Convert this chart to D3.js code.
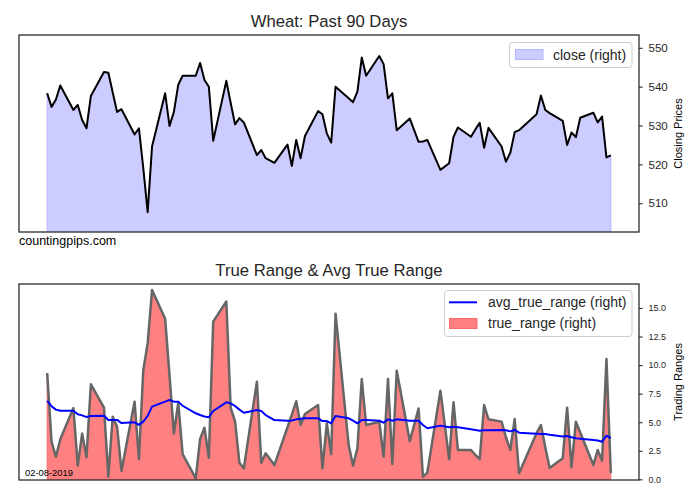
<!DOCTYPE html>
<html>
<head>
<meta charset="utf-8">
<script src="https://cdn.jsdelivr.net/npm/d3@7"></script>
<style>
  html, body { margin: 0; background: #fff; }
  svg { display: block; font-family: "Liberation Sans", Arial, sans-serif; }
</style>
</head>
<body>
<div id="chart"></div>
<script>
// trading days, last 90 sessions up to 02-08-2019
var dates = [
  "2018-10-02", "2018-10-03", "2018-10-04", "2018-10-05",
  "2018-10-08", "2018-10-09", "2018-10-10", "2018-10-11", "2018-10-12",
  "2018-10-15", "2018-10-16", "2018-10-17", "2018-10-18", "2018-10-19",
  "2018-10-22", "2018-10-23", "2018-10-24", "2018-10-25", "2018-10-26",
  "2018-10-29", "2018-10-30", "2018-10-31", "2018-11-01", "2018-11-02",
  "2018-11-05", "2018-11-06", "2018-11-07", "2018-11-08", "2018-11-09",
  "2018-11-12", "2018-11-13", "2018-11-14", "2018-11-15", "2018-11-16",
  "2018-11-19", "2018-11-20", "2018-11-21", "2018-11-23",
  "2018-11-26", "2018-11-27", "2018-11-28", "2018-11-29", "2018-11-30",
  "2018-12-03", "2018-12-04", "2018-12-05", "2018-12-06", "2018-12-07",
  "2018-12-10", "2018-12-11", "2018-12-12", "2018-12-13", "2018-12-14",
  "2018-12-17", "2018-12-18", "2018-12-19", "2018-12-20", "2018-12-21",
  "2018-12-24", "2018-12-26", "2018-12-27", "2018-12-28",
  "2018-12-31", "2019-01-02", "2019-01-03", "2019-01-04",
  "2019-01-07", "2019-01-08", "2019-01-09", "2019-01-10", "2019-01-11",
  "2019-01-14", "2019-01-15", "2019-01-16", "2019-01-17", "2019-01-18",
  "2019-01-22", "2019-01-23", "2019-01-24", "2019-01-25",
  "2019-01-28", "2019-01-29", "2019-01-30", "2019-01-31", "2019-02-01",
  "2019-02-04", "2019-02-05", "2019-02-06", "2019-02-07", "2019-02-08"
];

var closePrices = [
  538.3, 534.8, 536.7, 540.3,
  534.0, 535.3, 531.4, 529.3, 537.6,
  543.8, 543.6, 538.5, 533.5, 534.2,
  527.7, 529.3, 519.0, 507.7, 524.6,
  538.3, 529.9, 533.5, 540.5, 542.8,
  542.8, 546.1, 541.7, 540.0, 526.1,
  541.5, 535.8, 530.3, 531.9, 530.8,
  522.4, 523.7, 521.6, 520.4,
  525.1, 519.6, 526.3, 521.6, 527.3,
  533.7, 532.9, 528.0, 525.6, 540.0,
  537.0, 536.0, 538.7, 547.5, 542.8,
  547.9, 545.8, 537.0, 538.3, 528.8,
  531.8, 525.8, 525.9, 526.3,
  518.6, 520.3, 527.1, 529.5,
  527.1, 529.0, 530.7, 524.3, 529.4,
  524.6, 520.7, 523.0, 528.3, 528.8,
  532.9, 537.7, 534.0, 533.2,
  531.2, 525.0, 528.2, 527.0, 532.0,
  533.3, 530.8, 532.3, 521.8, 522.3
];

var trueRange = [
  9.3, 3.29, 1.98, 3.5,
  6.24, 1.2, 4.0, 1.93, 8.32,
  6.27, 0.23, 5.48, 4.6, 0.73,
  6.8, 1.78, 9.57, 11.9, 16.58,
  14.05, 9.1, 4.0, 6.7, 2.2,
  0.09, 3.53, 4.52, 1.89, 13.8,
  15.57, 6.25, 5.08, 1.45, 0.96,
  8.55, 1.45, 2.28, 1.25,
  4.56, 5.66, 6.83, 4.75, 5.72,
  6.5, 0.96, 4.9, 2.2, 14.5,
  3.0, 1.2, 2.72, 8.78, 4.75,
  5.03, 1.98, 8.78, 1.34, 9.5,
  3.34, 6.2, 0.23, 0.58,
  7.76, 1.75, 6.74, 2.57,
  2.57, 2.13, 1.78, 6.5, 5.25,
  5.05, 3.68, 2.57, 5.28, 0.53,
  4.04, 4.75, 2.8, 1.0,
  1.85, 6.27, 1.05, 5.05, 4.1,
  1.25, 2.57, 1.63, 10.53, 0.53
];

var avgTrueRange = [
  6.86, 6.4, 6.1, 6.0,
  6.0, 5.7, 5.6, 5.45, 5.55,
  5.57, 5.2, 5.2, 5.2, 4.92,
  4.99, 4.77, 5.05, 5.55, 6.36,
  6.8, 6.94, 6.8, 6.8, 6.44,
  5.78, 5.63, 5.5, 5.43, 5.98,
  6.74, 6.65, 6.42, 6.1, 5.83,
  6.07, 5.98, 5.63, 5.19,
  5.13, 5.15, 5.25, 5.3, 5.34,
  5.34, 5.1, 5.1, 4.9, 5.54,
  5.34, 5.13, 4.9, 5.19, 5.19,
  5.13, 4.96, 5.25, 5.13, 5.25,
  5.13, 5.13, 4.75, 4.47,
  4.7, 4.55, 4.6, 4.55,
  4.38, 4.32, 4.26, 4.3, 4.3,
  4.32, 4.3, 4.2, 4.32, 4.08,
  4.0, 3.97, 3.97, 3.9,
  3.75, 3.79, 3.68, 3.59, 3.55,
  3.44, 3.4, 3.29, 3.82, 3.6
];

var closeTicks = [510, 520, 530, 540, 550];
var rangeTicks = [0, 2.5, 5, 7.5, 10, 12.5, 15];

(function () {
  var W = 700, H = 500;
  var spine = "#262626";
  var parse = d3.utcParse("%Y-%m-%d");
  var days = dates.map(parse);

  var svg = d3.select("#chart").append("svg")
    .attr("width", W).attr("height", H);

  // matplotlib-style 5% margin on the time axis
  var t0 = days[0].getTime(), t1 = days[days.length - 1].getTime();
  var pad = (t1 - t0) * 0.05;
  var x = d3.scaleUtc()
    .domain([new Date(t0 - pad), new Date(t1 + pad)])
    .range([19, 639]);

  function frame(id, top, bottom) {
    svg.append("clipPath").attr("id", id)
      .append("rect").attr("x", 19).attr("y", top)
      .attr("width", 620).attr("height", bottom - top);
  }

  function spines(top, bottom) {
    svg.append("rect")
      .attr("x", 19).attr("y", top).attr("width", 620).attr("height", bottom - top)
      .attr("fill", "none").attr("stroke", spine).attr("stroke-width", 1.25);
  }

  function rightAxis(y, ticks, fmt, fontSize, label, midY) {
    var ax = d3.axisRight(y).tickValues(ticks).tickFormat(fmt)
      .tickSize(3.5).tickPadding(6).tickSizeOuter(0);
    var g = svg.append("g").attr("transform", "translate(639,0)").call(ax);
    g.select(".domain").remove();
    g.selectAll("line").attr("stroke", spine).attr("stroke-width", 1.1);
    g.selectAll("text").attr("fill", spine).attr("font-size", fontSize + "px")
      .attr("font-family", "Liberation Sans, Arial, sans-serif");
    svg.append("text")
      .attr("transform", "translate(682," + midY + ") rotate(-90)")
      .attr("text-anchor", "middle").attr("font-size", "11px").attr("fill", "#000")
      .text(label);
  }

  function title(txt, yBase) {
    svg.append("text").attr("x", 329).attr("y", yBase)
      .attr("text-anchor", "middle").attr("font-size", "16.7px").attr("fill", "#262626")
      .text(txt);
  }

  // ---- top: closing prices
  var yTop = d3.scaleLinear().domain([502.6, 553.3]).range([232, 35]);
  frame("clipTop", 35, 232);
  var gTop = svg.append("g").attr("clip-path", "url(#clipTop)");
  var closeArea = d3.area()
    .x(function (d, i) { return x(days[i]); })
    .y0(240)
    .y1(function (d) { return yTop(d); });
  gTop.append("path").datum(closePrices)
    .attr("d", closeArea).attr("fill", "#ccccff")
    .attr("stroke", "#b5b5ff").attr("stroke-width", 1);
  var closeLine = d3.line()
    .x(function (d, i) { return x(days[i]); })
    .y(function (d) { return yTop(d); });
  gTop.append("path").datum(closePrices)
    .attr("d", closeLine).attr("fill", "none")
    .attr("stroke", "#000").attr("stroke-width", 2).attr("stroke-linejoin", "round");
  spines(35, 232);
  rightAxis(yTop, closeTicks, d3.format("d"), 11.5, "Closing Prices", 133.5);
  title("Wheat: Past 90 Days", 27);

  var lgTop = svg.append("g");
  lgTop.append("rect").attr("x", 509.5).attr("y", 42.5).attr("width", 122.5).attr("height", 25)
    .attr("rx", 3).attr("fill", "#fff").attr("fill-opacity", 0.8).attr("stroke", "#cccccc");
  lgTop.append("rect").attr("x", 515.5).attr("y", 49.5).attr("width", 27.5).attr("height", 10)
    .attr("fill", "#ccccff").attr("stroke", "#b5b5ff");
  lgTop.append("text").attr("x", 553).attr("y", 59.5).attr("font-size", "14px").attr("fill", "#262626")
    .text("close (right)");

  svg.append("text").attr("x", 19).attr("y", 245).attr("font-size", "12.5px").attr("fill", "#000")
    .text("countingpips.com");

  // ---- bottom: true range and its average
  var yBot = d3.scaleLinear().domain([-0.06, 17.1]).range([480, 284]);
  frame("clipBot", 284, 480);
  var gBot = svg.append("g").attr("clip-path", "url(#clipBot)");
  var trArea = d3.area()
    .x(function (d, i) { return x(days[i]); })
    .y0(yBot(0))
    .y1(function (d) { return yBot(d); });
  gBot.append("path").datum(trueRange)
    .attr("d", trArea).attr("fill", "#ff8080")
    .attr("stroke", "#ff6b6b").attr("stroke-width", 1);
  var trLine = d3.line()
    .x(function (d, i) { return x(days[i]); })
    .y(function (d) { return yBot(d); });
  gBot.append("path").datum(trueRange)
    .attr("d", trLine).attr("fill", "none")
    .attr("stroke", "#666666").attr("stroke-width", 2.5).attr("stroke-linejoin", "round");
  gBot.append("path").datum(avgTrueRange)
    .attr("d", trLine).attr("fill", "none")
    .attr("stroke", "#0000ff").attr("stroke-width", 2).attr("stroke-linejoin", "round");
  spines(284, 480);
  rightAxis(yBot, rangeTicks, d3.format(".1f"), 9, "Trading Ranges", 382);
  title("True Range & Avg True Range", 276);

  var lgBot = svg.append("g");
  lgBot.append("rect").attr("x", 444.5).attr("y", 290.5).attr("width", 187.5).attr("height", 46)
    .attr("rx", 3).attr("fill", "#fff").attr("fill-opacity", 0.8).attr("stroke", "#cccccc");
  lgBot.append("line").attr("x1", 449).attr("x2", 477).attr("y1", 302.3).attr("y2", 302.3)
    .attr("stroke", "#0000ff").attr("stroke-width", 2);
  lgBot.append("text").attr("x", 488).attr("y", 306.8).attr("font-size", "14px").attr("fill", "#262626")
    .text("avg_true_range (right)");
  lgBot.append("rect").attr("x", 449.5).attr("y", 318.5).attr("width", 27.5).attr("height", 10)
    .attr("fill", "#ff8080").attr("stroke", "#ff6b6b");
  lgBot.append("text").attr("x", 488).attr("y", 328.3).attr("font-size", "14px").attr("fill", "#262626")
    .text("true_range (right)");

  svg.append("text").attr("x", 25).attr("y", 476).attr("font-size", "9.4px").attr("fill", "#000")
    .text("02-08-2019");
})();
</script>
</body>
</html>
